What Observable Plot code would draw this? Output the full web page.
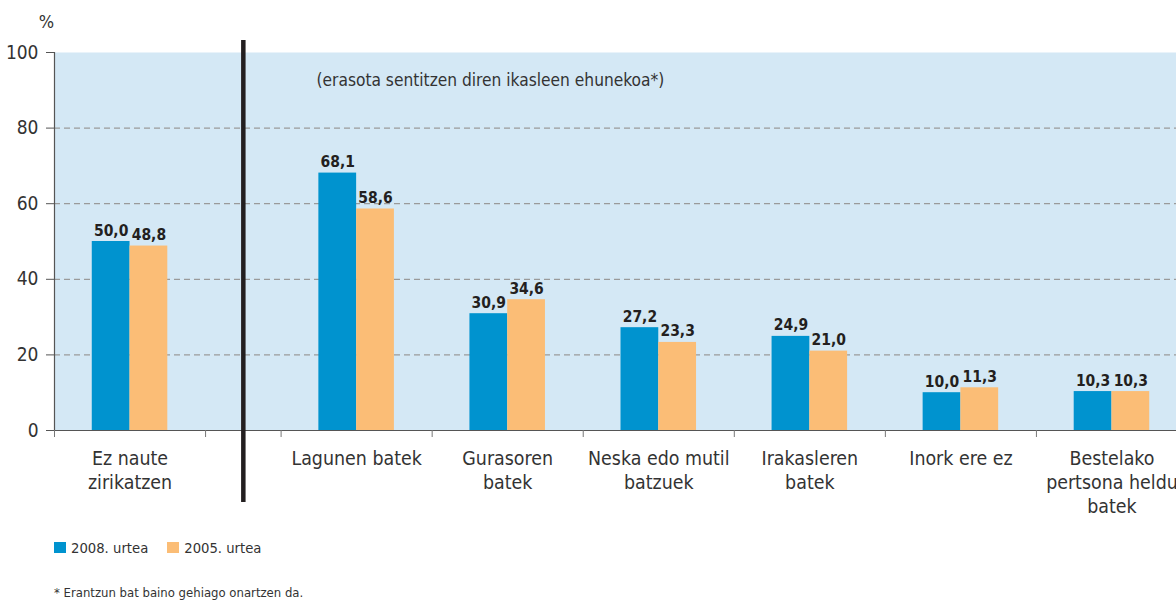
<!DOCTYPE html>
<html>
<head>
<meta charset="utf-8">
<script src="https://cdn.jsdelivr.net/npm/d3@7"></script>
<script src="https://cdn.jsdelivr.net/npm/@observablehq/plot@0.6"></script>
<style>
  html, body { margin: 0; padding: 0; background: white; overflow: hidden; }
  body { width: 1176px; height: 600px; font-family: "DejaVu Sans Condensed", "DejaVu Sans", sans-serif; color: #333; }
  #legend { display: flex; align-items: center; height: 20px; margin-top: 12px; padding-left: 54px; font-size: 14.7px; }
  .item { display: flex; align-items: center; margin-right: 19px; }
  .sw { width: 12px; height: 11px; margin-right: 5px; }
  #note { margin-top: 27px; padding-left: 54px; font-size: 13px; line-height: 18px; }
</style>
</head>
<body>
<div id="chart"></div>
<div id="legend"></div>
<div id="note"></div>
<script>
const categories = ["Ez naute\nzirikatzen", "Lagunen batek", "Gurasoren\nbatek", "Neska edo mutil\nbatzuek", "Irakasleren\nbatek", "Inork ere ez", "Bestelako\npertsona heldu\nbatek"];
const series = ["2008. urtea", "2005. urtea"];
const values2008 = [50.0, 68.1, 30.9, 27.2, 24.9, 10.0, 10.3];
const values2005 = [48.8, 58.6, 34.6, 23.3, 21.0, 11.3, 10.3];
const yTicks = [0, 20, 40, 60, 80, 100];
const colors = ["#0093cf", "#fbbd76"];
const yLabel = "%";
const subtitle = "(erasota sentitzen diren ikasleen ehunekoa*)";
const footnote = "* Erantzun bat baino gehiago onartzen da.";

const font = '"DejaVu Sans Condensed", "DejaVu Sans", sans-serif';

// category centers: first group, then a half-band gap, then the rest
const pos = categories.map((_, i) => i === 0 ? 0.5 : i + 1);
const boundaries = Array.from(new Set(pos.flatMap(p => [p - 0.5, p + 0.5]))).sort((a, b) => a - b);
const divider = ((pos[0] + 0.5) + (pos[1] - 0.5)) / 2;

const rows = [];
categories.forEach((c, i) => {
  rows.push({cat: c, series: series[0], value: values2008[i], x1: pos[i] - 0.25, x2: pos[i]});
  rows.push({cat: c, series: series[1], value: values2005[i], x1: pos[i], x2: pos[i] + 0.25});
});
const cats = categories.map((c, i) => ({label: c, pos: pos[i]}));

const chart = Plot.plot({
  width: 1176,
  height: 525,
  marginLeft: 54,
  marginRight: 0,
  marginTop: 52,
  marginBottom: 95,
  x: {domain: [0, 7.5], range: [54, 1187]},
  y: {domain: [0, 100]},
  color: {domain: series, range: colors},
  style: {fontFamily: font, background: "white", color: "#333", overflow: "hidden"},
  marks: [
    Plot.frame({fill: "#d4e8f5"}),
    Plot.gridY(yTicks.filter(t => t > 0 && t < 100), {stroke: "#9a9a9a", strokeOpacity: 1, strokeDasharray: "6,4", strokeWidth: 1.2}),
    Plot.rectY(rows, {x1: "x1", x2: "x2", y: "value", fill: "series"}),
    Plot.ruleY([0], {stroke: "#555", strokeWidth: 1.2}),
    Plot.ruleX([0], {stroke: "#555", strokeWidth: 1.2}),
    Plot.axisY({ticks: yTicks, tickSize: 8, tickPadding: 8, fontSize: 19, label: null, stroke: "#555"}),
    Plot.axisX({ticks: boundaries, tickSize: 7, tickFormat: () => "", label: null, stroke: "#777"}),
    Plot.ruleX([divider], {stroke: "#231f20", strokeWidth: 4.5, insetTop: -12, insetBottom: -72}),
    Plot.text(rows, {x: d => (d.x1 + d.x2) / 2, y: "value", text: d => d.value.toFixed(1).replace(".", ","), dy: -6, lineAnchor: "bottom", fontWeight: "bold", fontSize: 15.5, fill: "#231f20"}),
    Plot.text(cats, {x: "pos", y: 0, text: "label", lineAnchor: "top", dy: 17, fontSize: 19.4, lineHeight: 1.24, fill: "#333"}),
    Plot.text([yLabel], {frameAnchor: "top-left", dx: -8, dy: -30, lineAnchor: "middle", textAnchor: "middle", fontSize: 18, fill: "#333"}),
    Plot.text([subtitle], {frameAnchor: "top-left", dx: 262, dy: 28, lineAnchor: "middle", textAnchor: "start", fontSize: 17.2, fill: "#333"})
  ]
});
document.getElementById("chart").appendChild(chart);

const legend = document.getElementById("legend");
series.forEach((s, i) => {
  const item = document.createElement("div");
  item.className = "item";
  const sw = document.createElement("div");
  sw.className = "sw";
  sw.style.background = colors[i];
  const t = document.createElement("span");
  t.textContent = s;
  item.appendChild(sw);
  item.appendChild(t);
  legend.appendChild(item);
});
document.getElementById("note").textContent = footnote;
</script>
</body>
</html>
